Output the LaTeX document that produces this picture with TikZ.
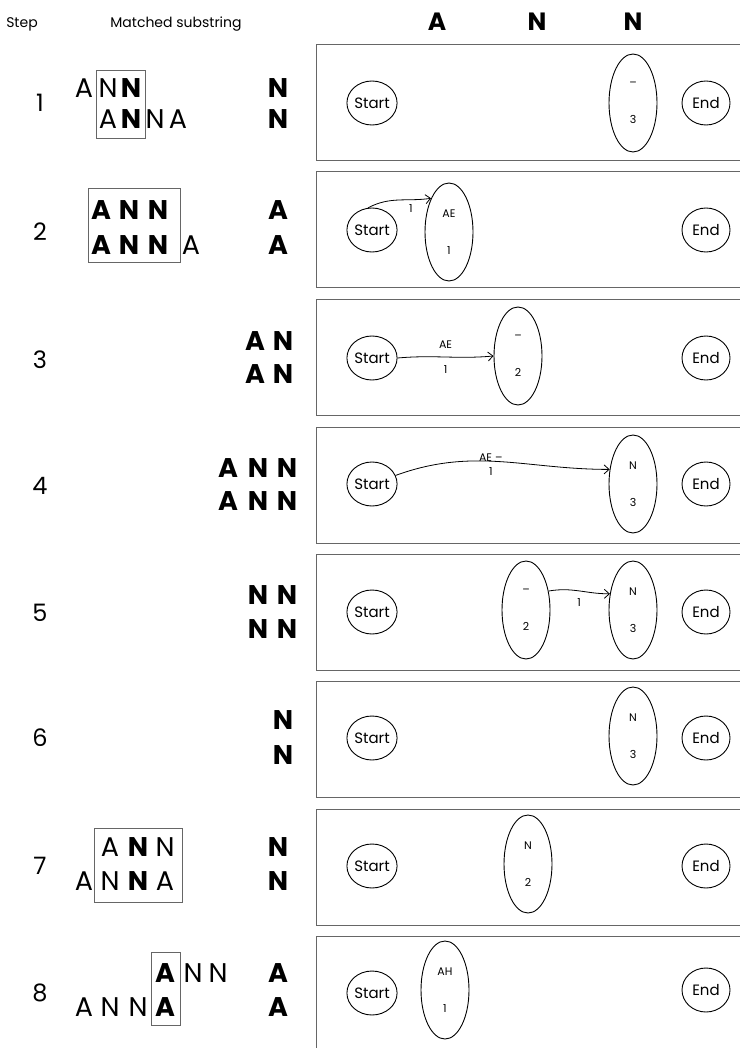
\documentclass[tikz,border=0pt]{standalone}
\usepackage{fontspec}
\setmainfont{Poppins}
\usetikzlibrary{shapes.geometric,arrows.meta}

\tikzset{
  panel/.style={draw=black!60, line width=0.6pt},
  hbox/.style={draw=black!60, line width=0.6pt},
  term/.style={draw, ellipse, line width=0.9pt, minimum width=48pt, minimum height=44pt, inner sep=0pt, font=\fontsize{15}{17}\selectfont},
  state/.style={draw, ellipse, line width=0.9pt, minimum width=48pt, minimum height=98pt, inner sep=0pt, align=center, font=\fontsize{11}{13}\selectfont},
  edge/.style={-{Straight Barb[length=5pt,width=9pt]}, line width=0.8pt},
  elab/.style={font=\fontsize{11}{13}\selectfont, inner sep=2pt},
  ltr/.style={font=\fontsize{27}{29}\selectfont, inner sep=0pt},
  bltr/.style={font=\fontsize{27}{29}\selectfont\bfseries, inner sep=0pt},
  stepno/.style={font=\fontsize{24}{26}\selectfont},
  head/.style={font=\fontsize{14}{16}\selectfont},
}

\begin{document}
\begin{tikzpicture}[x=1pt, y=-1pt]
  \useasboundingbox (0,0) rectangle (739,1048);

  % Column headings
  \node[head] (hstep) at (22,24) {Step};
  \node[head] (hsub) at (176,24) {Matched substring};
  \foreach \x/\c [count=\k] in {437/A, 537/N, 633/N} {\node[bltr, font=\fontsize{25}{27}\selectfont\bfseries] (hq\k) at (\x,22) {\c};}

  % Panels, one per step
  \foreach \t [count=\k] in {44,171,299,427,554,681,809,936} {
    \draw[panel] (316,\t) rectangle ++(430,116);
  }

  % Step numbers
  \foreach \y [count=\k] in {103,232,360,486,613,738,866,993} {\node[stepno] (n\k) at (40,\y) {\k};}

  % Step 1
  \foreach \x/\c/\w [count=\k] in {84/A/ltr, 108/N/ltr, 131/N/bltr, 278/N/bltr} {\node[\w] (r1t\k) at (\x,88) {\c};}
  \foreach \x/\c/\w [count=\k] in {108/A/ltr, 131/N/bltr, 155/N/ltr, 178/A/ltr, 278/N/bltr} {\node[\w] (r1b\k) at (\x,119) {\c};}
  \draw[hbox] (96,70) rectangle (145,138);
  \node[term] (s1) at (372,103) {Start};
  \node[term] (f1) at (706,103) {End};
  \node[state] (e1) at (633,103) {--\\[24pt]3};

  % Step 2
  \foreach \x/\c/\w [count=\k] in {101/A/bltr, 129/N/bltr, 158/N/bltr, 278/A/bltr} {\node[\w] (r2t\k) at (\x,210) {\c};}
  \foreach \x/\c/\w [count=\k] in {101/A/bltr, 129/N/bltr, 158/N/bltr, 191/A/ltr, 278/A/bltr} {\node[\w] (r2b\k) at (\x,245) {\c};}
  \draw[hbox] (88,188) rectangle (180,262);
  \node[term] (s2) at (372,230) {Start};
  \node[term] (f2) at (706,230) {End};
  \node[state] (e2) at (449,232) {AE\\[24pt]1};
  \draw[edge] (s2.100) to[out=28, in=188] node[elab, pos=0.7, below=2pt] (l2) {1} (e2.118);

  % Step 3
  \foreach \x/\c [count=\k] in {255/A, 283/N} {\node[bltr] (r3t\k) at (\x,341) {\c};}
  \foreach \x/\c [count=\k] in {255/A, 283/N} {\node[bltr] (r3b\k) at (\x,374) {\c};}
  \node[term] (s3) at (372,358) {Start};
  \node[term] (f3) at (706,358) {End};
  \node[state] (e3) at (518,356) {--\\[24pt]2};
  \draw[edge] (s3.east) to[out=5, in=185] node[elab, above=6pt] (l3a) {AE} node[elab, below=6pt] (l3b) {1} (e3.west);

  % Step 4
  \foreach \x/\c [count=\k] in {228/A, 258/N, 287/N} {\node[bltr] (r4t\k) at (\x,468) {\c};}
  \foreach \x/\c [count=\k] in {228/A, 258/N, 287/N} {\node[bltr] (r4b\k) at (\x,501) {\c};}
  \node[term] (s4) at (372,484) {Start};
  \node[term] (f4) at (706,484) {End};
  \node[state] (e4) at (633,484) {N\\[24pt]3};
  \draw[edge] (s4.20) to[out=20, in=180] node[elab, pos=0.45, above=-3pt] (l4a) {AE --} node[elab, pos=0.45, below=4pt] (l4b) {1} (e4.148);

  % Step 5
  \foreach \x/\c [count=\k] in {258/N, 287/N} {\node[bltr] (r5t\k) at (\x,595) {\c};}
  \foreach \x/\c [count=\k] in {258/N, 287/N} {\node[bltr] (r5b\k) at (\x,629) {\c};}
  \node[term] (s5) at (372,612) {Start};
  \node[term] (f5) at (706,612) {End};
  \node[state] (e5a) at (526,610) {--\\[24pt]2};
  \node[state] (e5b) at (633,610) {N\\[24pt]3};
  \draw[edge] (e5a.40) to[out=10, in=180] node[elab, below=5pt] (l5) {1} (e5b.145);

  % Step 6
  \node[bltr] (r6t) at (283,720) {N};
  \node[bltr] (r6b) at (283,755) {N};
  \node[term] (s6) at (372,738) {Start};
  \node[term] (f6) at (706,738) {End};
  \node[state] (e6) at (633,736) {N\\[24pt]3};

  % Step 7
  \foreach \x/\c/\w [count=\k] in {110/A/ltr, 138/N/bltr, 165/N/ltr, 278/N/bltr} {\node[\w] (r7t\k) at (\x,847) {\c};}
  \foreach \x/\c/\w [count=\k] in {84/A/ltr, 110/N/ltr, 138/N/bltr, 165/A/ltr, 278/N/bltr} {\node[\w] (r7b\k) at (\x,881) {\c};}
  \draw[hbox] (94,828) rectangle (182,902);
  \node[term] (s7) at (372,866) {Start};
  \node[term] (f7) at (706,866) {End};
  \node[state] (e7) at (528,864) {N\\[24pt]2};

  % Step 8
  \foreach \x/\c/\w [count=\k] in {165/A/bltr, 193/N/ltr, 218/N/ltr, 278/A/bltr} {\node[\w] (r8t\k) at (\x,973) {\c};}
  \foreach \x/\c/\w [count=\k] in {84/A/ltr, 110/N/ltr, 138/N/ltr, 165/A/bltr, 278/A/bltr} {\node[\w] (r8b\k) at (\x,1007) {\c};}
  \draw[hbox] (151,952) rectangle (180,1025);
  \node[term] (s8) at (372,993) {Start};
  \node[term] (f8) at (706,990) {End};
  \node[state] (e8) at (445,990) {AH\\[24pt]1};
\end{tikzpicture}
\end{document}
